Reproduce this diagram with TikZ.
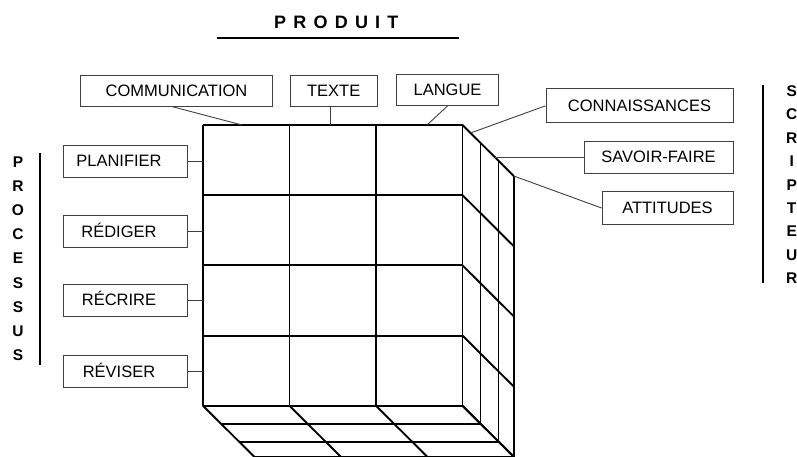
\documentclass[tikz,border=0pt]{standalone}
\usepackage{fontspec}
\setmainfont{Liberation Sans}
\begin{document}
\begin{tikzpicture}[x=1pt,y=-1pt,
    font=\fontsize{16.5}{16.5}\selectfont,
    cube/.style={line width=1.9pt},
    lien/.style={draw=black!75, line width=0.9pt},
    boite/.style={draw=black!75, line width=0.9pt, inner sep=0pt, minimum height=31pt,
        text height=11.8pt, text depth=0pt},
    procbox/.style={boite, minimum width=124pt, minimum height=32pt,
        label={[xshift=-6pt, inner sep=0pt, text height=11.8pt, text depth=0pt]center:#1}},
    titre/.style={font=\bfseries\fontsize{15.5}{15.5}\selectfont, inner sep=0pt,
        text height=11pt, text depth=0pt}]
\clip (0,0) rectangle (797,457);
\coordinate (c0) at (203,125);
\coordinate (coin) at (513.8,176);
\foreach \x in {203,289.5,376,462.5} {
    \draw[cube] (\x,125) -- (\x,405.8);
    \draw[cube] (\x,405.8) -- ++(51.3,51);
}
\foreach \y in {125,195.2,265.4,335.6,405.8} {
    \draw[cube] (203,\y) -- (462.5,\y);
    \draw[cube] (462.5,\y) -- ++(51.3,51);
}
\foreach \d in {18,36,51.3} {
    \draw[cube] ({462.5+\d},{125+0.994*\d}) -- ({462.5+\d},{405.8+0.994*\d});
    \draw[cube] ({203+\d},{405.8+0.994*\d}) -- ({462.5+\d},{405.8+0.994*\d});
}

\node[font=\bfseries\fontsize{18}{18}\selectfont\addfontfeature{LetterSpace=40},
    anchor=west, inner sep=0pt, text height=12.9pt, text depth=0pt] (produit) at (274,22) {PRODUIT};
\draw[line width=1.8pt] (217,38) -- (459,38);
\foreach \c [count=\i from 0] in {P,R,O,C,E,S,S,U,S}
    \node[titre] (processus-\i) at (18,{162+24.1*\i}) {\c};
\draw[line width=1.8pt] (40,153) -- (40,365);
\foreach \c [count=\i from 0] in {S,C,R,I,P,T,E,U,R}
    \node[titre] (scripteur-\i) at (791.7,{90.8+23.44*\i}) {\c};
\draw[line width=1.8pt] (762.7,85) -- (762.7,283);

\node[boite, minimum width=191.6pt] (communication) at (176.5,90.5) {COMMUNICATION};
\node[boite, minimum width=87pt] (texte) at (333.7,90.8) {TEXTE};
\node[boite, minimum width=101.6pt] (langue) at (447.5,90) {LANGUE};
\node[boite, minimum width=187pt, minimum height=33.7pt] (connaissances) at (639.5,105.8) {CONNAISSANCES};
\node[boite, minimum width=149pt, minimum height=32pt] (savoir) at (658.5,157) {SAVOIR-FAIRE};
\node[boite, minimum width=131pt, minimum height=32.3pt] (attitudes) at (667.5,208) {ATTITUDES};
\node[procbox=PLANIFIER] (planifier) at (125,161) {};
\node[procbox=RÉDIGER] (rediger) at (125,231.7) {};
\node[procbox=RÉCRIRE] (recrire) at (125,300) {};
\node[procbox=RÉVISER] (reviser) at (125,371.3) {};

\coordinate (comm-fin) at (242,125);
\coordinate (lang-fin) at (427,125);
\coordinate (conn-fin) at (470.5,133);
\coordinate (savo-fin) at (494.5,157);
\draw[lien] ([xshift=-5pt]communication.south) -- (comm-fin);
\draw[lien] ([xshift=-3.5pt]texte.south) -- ([xshift=-3.5pt]texte.south |- c0);
\draw[lien] (langue.south) -- (lang-fin);
\draw[lien] (connaissances.west) -- (conn-fin);
\draw[lien] (savoir.west) -- (savo-fin);
\draw[lien] (attitudes.west) -- (coin);
\foreach \n in {planifier,rediger,recrire,reviser}
    \draw[lien] (\n.east) -- (\n.east -| c0);
\end{tikzpicture}
\end{document}
